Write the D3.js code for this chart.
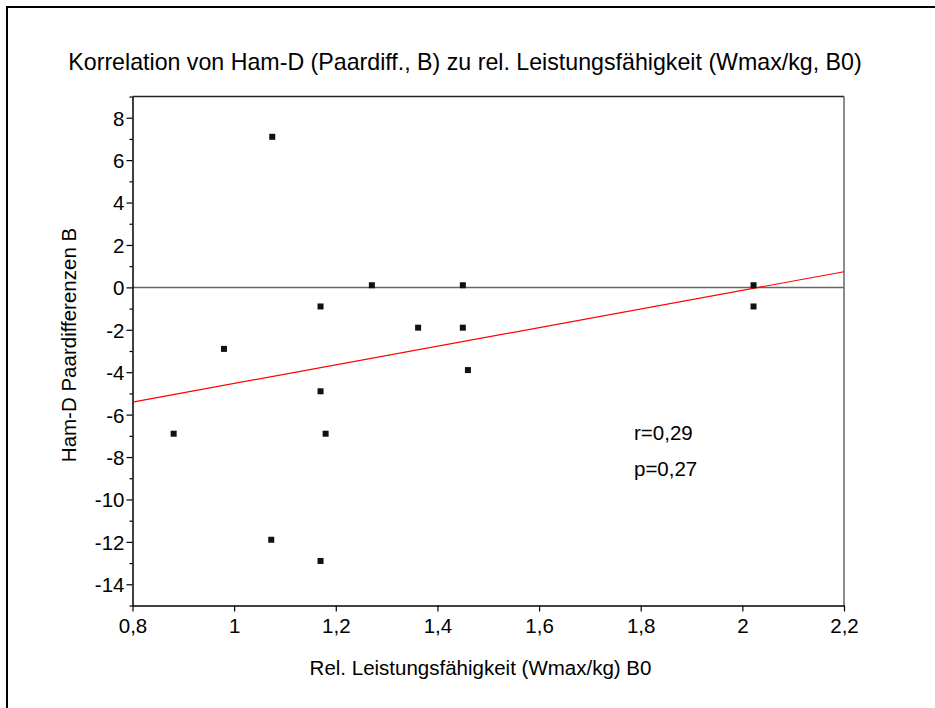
<!DOCTYPE html>
<html>
<head>
<meta charset="utf-8">
<script src="https://cdn.jsdelivr.net/npm/d3@7/dist/d3.min.js"></script>
<style>
  html, body { margin: 0; padding: 0; background: #fff; }
  svg { display: block; font-family: "Liberation Sans", Arial, sans-serif; }
</style>
</head>
<body>
<svg id="chart" width="935" height="708"></svg>
<script>
// Relative performance (Wmax/kg, B0) per subject
const leistung = [1.075, 1.17, 1.271, 1.45, 1.362, 1.45, 1.46, 0.98, 1.17, 0.881, 1.18, 1.073, 1.17, 2.022, 2.022];
// Ham-D pair differences B per subject
const hamD = [7.1, -0.9, 0.1, 0.1, -1.9, -1.9, -3.9, -2.9, -4.9, -6.9, -6.9, -11.9, -12.9, 0.1, -0.9];
// Regression line y = intercept + slope * x, and its centroid
const regIntercept = -8.92;
const regSlope = 4.39;
const centroid = [1.305, -3.2];
const xTicks = [0.8, 1, 1.2, 1.4, 1.6, 1.8, 2, 2.2];
const yTicks = [8, 6, 4, 2, 0, -2, -4, -6, -8, -10, -12, -14];
const yMinorTicks = [9, 7, 5, 3, 1, -1, -3, -5, -7, -9, -11, -13, -15];
const stats = ["r=0,29", "p=0,27"];

const svg = d3.select("#chart");
const fmt = d => String(d).replace(".", ",");
const labelSize = 20.5;

// outer frame (top and left edges visible)
svg.append("rect").attr("x", 7).attr("y", 7).attr("width", 960).attr("height", 740)
  .attr("fill", "none").attr("stroke", "#000").attr("stroke-width", 2);

const pLeft = 132.5, pRight = 844, pTop = 96.5, pBottom = 605.5;
const x = d3.scaleLinear().domain([0.8, 2.2]).range([pLeft, pRight]);
const y = d3.scaleLinear().domain([-15, 9]).range([pBottom, pTop]);

// title
svg.append("text").attr("x", 465).attr("y", 70).attr("text-anchor", "middle")
  .attr("font-size", 23.2).attr("fill", "#000")
  .text("Korrelation von Ham-D (Paardiff., B) zu rel. Leistungsfähigkeit (Wmax/kg, B0)");

// top and right frame of the plot area
svg.append("line").attr("x1", pLeft).attr("x2", pRight).attr("y1", pTop).attr("y2", pTop)
  .attr("stroke", "#222").attr("stroke-width", 1.3);
svg.append("line").attr("x1", pRight).attr("x2", pRight).attr("y1", pTop).attr("y2", pBottom)
  .attr("stroke", "#666").attr("stroke-width", 1.5);

// zero reference line
svg.append("line").attr("x1", pLeft).attr("x2", pRight).attr("y1", y(0)).attr("y2", y(0))
  .attr("stroke", "#666").attr("stroke-width", 1.5);

// x axis
const xAxis = d3.axisBottom(x).tickValues(xTicks).tickFormat(fmt).tickSize(6).tickSizeOuter(0);
const gx = svg.append("g").attr("transform", `translate(0,${pBottom})`).call(xAxis);
gx.select(".domain").attr("stroke", "#000").attr("stroke-width", 1.5);
gx.selectAll(".tick line").attr("stroke", "#000").attr("stroke-width", 1.2);
gx.selectAll(".tick text").attr("font-size", labelSize).attr("font-family", "Liberation Sans, Arial, sans-serif")
  .attr("fill", "#000").attr("y", 12.5).attr("dy", "0.72em");

// y axis with minor ticks
const gyMinor = svg.append("g").attr("transform", `translate(${pLeft},0)`)
  .call(d3.axisLeft(y).tickValues(yMinorTicks).tickSize(3).tickFormat(""));
gyMinor.select(".domain").remove();
gyMinor.selectAll(".tick line").attr("stroke", "#000").attr("stroke-width", 1.2);

const yAxis = d3.axisLeft(y).tickValues(yTicks).tickFormat(d => String(d)).tickSize(6).tickSizeOuter(0);
const gy = svg.append("g").attr("transform", `translate(${pLeft},0)`).call(yAxis);
gy.select(".domain").attr("stroke", "#000").attr("stroke-width", 1.5);
gy.selectAll(".tick line").attr("stroke", "#000").attr("stroke-width", 1.2);
gy.selectAll(".tick text").attr("font-size", labelSize).attr("font-family", "Liberation Sans, Arial, sans-serif")
  .attr("fill", "#000").attr("x", -8).attr("dy", "0.36em");

// axis titles
svg.append("text").attr("x", 480.5).attr("y", 675).attr("text-anchor", "middle")
  .attr("font-size", labelSize).attr("fill", "#000")
  .text("Rel. Leistungsfähigkeit (Wmax/kg) B0");
svg.append("text").attr("transform", "translate(76,345) rotate(-90)").attr("text-anchor", "middle")
  .attr("font-size", labelSize).attr("fill", "#000")
  .text("Ham-D Paardifferenzen B");

// regression line
const xDom = x.domain();
svg.append("line")
  .attr("x1", x(xDom[0])).attr("y1", y(regIntercept + regSlope * xDom[0]))
  .attr("x2", x(xDom[1])).attr("y2", y(regIntercept + regSlope * xDom[1]))
  .attr("stroke", "#f00").attr("stroke-width", 1.2);
svg.append("rect").attr("x", x(centroid[0]) - 1).attr("y", y(centroid[1]) - 1)
  .attr("width", 2).attr("height", 2).attr("fill", "#2c2");

// data points
const data = leistung.map((v, i) => ({ x: v, y: hamD[i] }));
svg.append("g").selectAll("rect.pt").data(data).join("rect")
  .attr("class", "pt")
  .attr("x", d => x(d.x) - 3).attr("y", d => y(d.y) - 3)
  .attr("width", 6).attr("height", 6).attr("fill", "#111");

// statistics
svg.append("g").selectAll("text").data(stats).join("text")
  .attr("x", 634).attr("y", (d, i) => 440 + i * 36)
  .attr("font-size", labelSize).attr("fill", "#000").text(d => d);
</script>
</body>
</html>
